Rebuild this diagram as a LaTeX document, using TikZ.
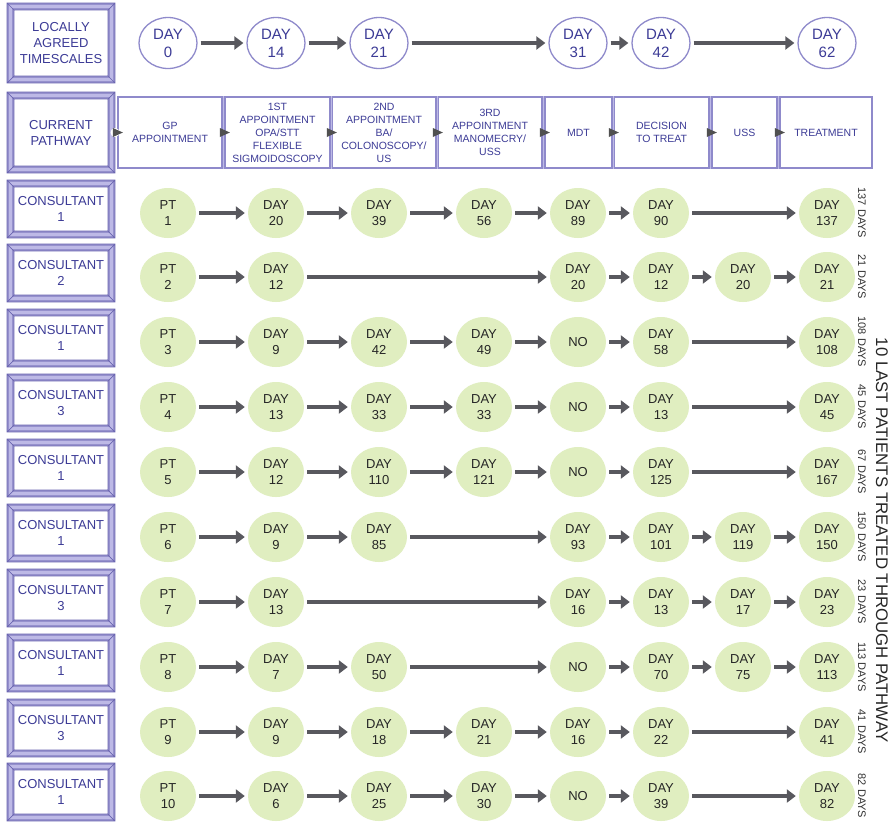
\documentclass[tikz,border=0pt]{standalone}
\usepackage{fontspec}
\setmainfont{Liberation Sans}
\usetikzlibrary{shapes.geometric,arrows.meta,calc}

\definecolor{ink}{HTML}{3C3B96}
\definecolor{frameC}{HTML}{9691CD}
\definecolor{frameL}{HTML}{BDB9E6}
\definecolor{frameD}{HTML}{6A64B0}
\definecolor{ringC}{HTML}{8F8ACB}
\definecolor{leaf}{HTML}{E0EEC0}
\definecolor{arrowC}{HTML}{58585E}
\definecolor{tipC}{HTML}{505050}

% bevelled picture-frame look for the label boxes on the left
\newcommand\bevel[1]{%
  \draw[frameL, line width=2.4pt]
    ([shift={(3.5pt,-3.5pt)}]#1.north west) rectangle ([shift={(-3.5pt,3.5pt)}]#1.south east);
  \draw[frameD, line width=.7pt]
    (#1.north west) rectangle (#1.south east)
    ([shift={(7pt,-7pt)}]#1.north west) rectangle ([shift={(-7pt,7pt)}]#1.south east)
    (#1.north west) -- ++(7pt,-7pt) (#1.north east) -- ++(-7pt,-7pt)
    (#1.south west) -- ++(7pt,7pt) (#1.south east) -- ++(-7pt,7pt);
}

% one patient row: #1 row id, #2 y, #3 consultant, #4 total, #5 steps col/{text}
\newcommand\prow[5]{%
  \node[labelbox] (c#1) at (61,#2-4) {CONSULTANT\\#3};
  \bevel{c#1}
  \foreach \colid/\celltxt [remember=\colid as \prevcol (initially 0)] in {#5} {
    \pgfmathsetmacro\xx{{168,276,379,484,578,661,743,827}[\colid-1]}
    \node[leafnode] (p#1-\colid) at (\xx,#2) {\celltxt};
    \ifnum\prevcol>0 \draw[flow] (p#1-\prevcol) -- (p#1-\colid);\fi
  }
  \node[rotate=-90, font=\fontsize{11}{13}\selectfont, text=black!80] (d#1) at (862,#2) {#4};
}

\begin{document}
\begin{tikzpicture}[x=1pt,y=-1pt,
  labelbox/.style={rectangle, draw=frameC, line width=7pt, fill=white,
    minimum width=101pt, minimum height=51pt, inner sep=0pt, align=center,
    text=ink, font=\fontsize{13}{16}\selectfont},
  dayring/.style={ellipse, draw=ringC, line width=1.3pt, fill=white,
    minimum width=58pt, minimum height=51pt, inner sep=0pt, align=center,
    text=ink, font=\fontsize{15}{18}\selectfont},
  leafnode/.style={ellipse, fill=leaf, minimum width=56pt, minimum height=50pt,
    inner sep=0pt, align=center, text=black!85, font=\fontsize{13}{16}\selectfont},
  stage/.style={rectangle, draw=ringC, line width=1.3pt, inner sep=0pt,
    minimum height=71pt, align=center, text=ink, font=\fontsize{10.5}{13}\selectfont},
  flow/.style={draw=arrowC, line width=4.5pt, -{Triangle[length=9pt,width=13pt]},
    shorten <=3pt, shorten >=3pt}]

\fill[white] (0,0) rectangle (891,823);
\useasboundingbox (0,0) rectangle (891,823);

% header labels
\node[labelbox, minimum height=73pt] (scales) at (61,43) {LOCALLY\\AGREED\\TIMESCALES};
\bevel{scales}
\node[labelbox, minimum height=74pt] (pathway) at (61,132.5) {CURRENT\\PATHWAY};
\bevel{pathway}

% agreed timescales
\foreach \n/\x/\dd in {t0/168/0, t14/276/14, t21/379/21, t31/578/31, t42/661/42, t62/827/62}
  \node[dayring] (\n) at (\x,43) {DAY\\\dd};
\draw[flow] (t0) -- (t14);
\draw[flow] (t14) -- (t21);
\draw[flow] (t21) -- (t31);
\draw[flow] (t31) -- (t42);
\draw[flow] (t42) -- (t62);

% current pathway stages
\node[stage, minimum width=104pt] (gp)  at (170,132.5)   {GP\\APPOINTMENT};
\node[stage, minimum width=105pt] (s1)  at (277.5,132.5) {1ST\\APPOINTMENT\\OPA/STT\\FLEXIBLE\\SIGMOIDOSCOPY};
\node[stage, minimum width=104pt] (s2)  at (384,132.5)   {2ND\\APPOINTMENT\\BA/\\COLONOSCOPY/\\US};
\node[stage, minimum width=104pt] (s3)  at (490,132.5)   {3RD\\APPOINTMENT\\MANOMECRY/\\USS};
\node[stage, minimum width=67pt]  (mdt) at (578.5,132.5) {MDT};
\node[stage, minimum width=95pt]  (dtt) at (661.5,132.5) {DECISION\\TO TREAT};
\node[stage, minimum width=65pt]  (uss) at (744.5,132.5) {USS};
\node[stage, minimum width=92pt]  (tr)  at (826,132.5)   {TREATMENT};
\foreach \a/\b in {gp/s1, s1/s2, s2/s3, s3/mdt, mdt/dtt, dtt/uss, uss/tr}
  \fill[frameL] (\a.north east) rectangle (\b.south west);
\fill[white] (pathway.east) circle (4.5pt);
\foreach \s in {gp,s1,s2,s3,mdt,dtt,uss,tr}
  \fill[tipC] ([shift={(-4.5pt,4.5pt)}]\s.west) -- ++(10pt,-4.5pt) -- ++(-10pt,-4.5pt) -- cycle;

% patients
\prow{1}{213}{1}{137 DAYS}{1/{PT\\1},2/{DAY\\20},3/{DAY\\39},4/{DAY\\56},5/{DAY\\89},6/{DAY\\90},8/{DAY\\137}}
\prow{2}{277}{2}{21 DAYS}{1/{PT\\2},2/{DAY\\12},5/{DAY\\20},6/{DAY\\12},7/{DAY\\20},8/{DAY\\21}}
\prow{3}{342}{1}{108 DAYS}{1/{PT\\3},2/{DAY\\9},3/{DAY\\42},4/{DAY\\49},5/{NO},6/{DAY\\58},8/{DAY\\108}}
\prow{4}{407}{3}{45 DAYS}{1/{PT\\4},2/{DAY\\13},3/{DAY\\33},4/{DAY\\33},5/{NO},6/{DAY\\13},8/{DAY\\45}}
\prow{5}{472}{1}{67 DAYS}{1/{PT\\5},2/{DAY\\12},3/{DAY\\110},4/{DAY\\121},5/{NO},6/{DAY\\125},8/{DAY\\167}}
\prow{6}{537}{1}{150 DAYS}{1/{PT\\6},2/{DAY\\9},3/{DAY\\85},5/{DAY\\93},6/{DAY\\101},7/{DAY\\119},8/{DAY\\150}}
\prow{7}{602}{3}{23 DAYS}{1/{PT\\7},2/{DAY\\13},5/{DAY\\16},6/{DAY\\13},7/{DAY\\17},8/{DAY\\23}}
\prow{8}{667}{1}{113 DAYS}{1/{PT\\8},2/{DAY\\7},3/{DAY\\50},5/{NO},6/{DAY\\70},7/{DAY\\75},8/{DAY\\113}}
\prow{9}{732}{3}{41 DAYS}{1/{PT\\9},2/{DAY\\9},3/{DAY\\18},4/{DAY\\21},5/{DAY\\16},6/{DAY\\22},8/{DAY\\41}}
\prow{10}{796}{1}{82 DAYS}{1/{PT\\10},2/{DAY\\6},3/{DAY\\25},4/{DAY\\30},5/{NO},6/{DAY\\39},8/{DAY\\82}}

\node[rotate=-90, font=\fontsize{16.8}{19}\selectfont, text=black!85] (caption) at (882,540)
  {10 LAST PATIENTS TREATED THROUGH PATHWAY};
\end{tikzpicture}
\end{document}
